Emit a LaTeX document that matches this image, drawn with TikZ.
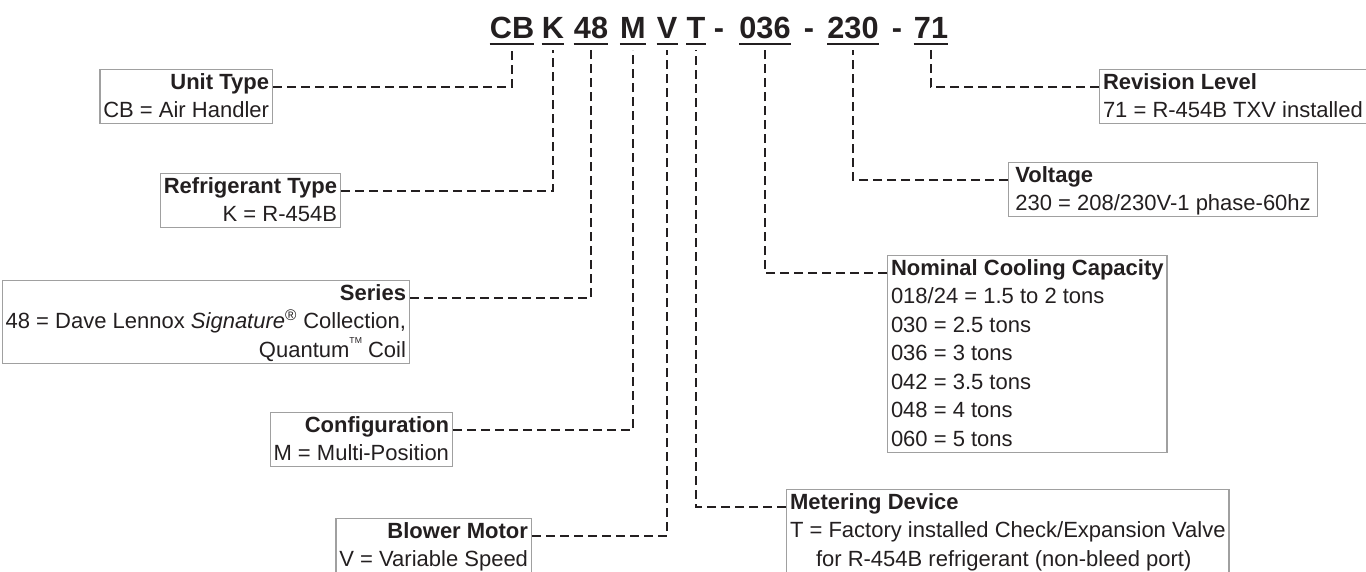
\documentclass[tikz,border=0pt]{standalone}
\usepackage{fontspec}
\setmainfont{Liberation Sans}
\definecolor{ink}{HTML}{231F20}
\definecolor{boxgray}{HTML}{A0A0A0}
\newcommand\bstrut{\rule[-3.4pt]{0pt}{16.9pt}}
\newcommand\tmark{\raisebox{0.62em}{\fontsize{6.5pt}{6.5pt}\selectfont TM}}
\begin{document}
\begin{tikzpicture}[x=0.75pt,y=-0.75pt,
  lbl/.style={draw=boxgray, line width=1pt, inner xsep=2.5pt, inner ysep=1.1pt, text=ink,
    font=\fontsize{16.5pt}{21.4pt}\selectfont},
  lbox/.style={lbl, anchor=north east, align=right},
  rbox/.style={lbl, anchor=north west, align=left},
  code/.style={anchor=base, inner sep=0pt, text=ink, font=\fontsize{23pt}{28pt}\selectfont\bfseries},
  uline/.style={draw=ink, line width=1.9pt},
  conn/.style={draw=ink, line width=2pt, dash pattern=on 6.5pt off 4pt},
]
\useasboundingbox (0,0) rectangle (1366,571);
\clip (0,0) rectangle (1366,571);

% model number tokens
\node[code] (tCB)  at (512,38) {CB};
\node[code] (tK)   at (553,38) {K};
\node[code] (t48)  at (591,38) {48};
\node[code] (tM)   at (633,38) {M};
\node[code] (tV)   at (667,38) {V};
\node[code] (tT)   at (696,38) {T};
\node[code] (d1)   at (719,38) {-};
\node[code] (t036) at (765,38) {036};
\node[code] (d2)   at (809,38) {-};
\node[code] (t230) at (853,38) {230};
\node[code] (d3)   at (897,38) {-};
\node[code] (t71)  at (931,38) {71};
\foreach \t in {tCB,tK,t48,tM,tV,tT,t036,t230,t71}{
  \draw[uline] ([yshift=-4.5pt]\t.base west) -- ([yshift=-4.5pt]\t.base east);
}

% left boxes
\node[lbox] (ut) at (273,69) {\bstrut\textbf{Unit Type}\\CB = Air Handler\bstrut};
\node[lbox] (rt) at (341,173) {\bstrut\textbf{Refrigerant Type}\\K = R-454B\bstrut};
\node[lbox] (se) at (410,280) {\bstrut\textbf{Series}\\48 = Dave Lennox \textit{Signature}\textsuperscript{®} Collection,\\Quantum\tmark\ Coil\bstrut};
\node[lbox] (cf) at (453,412) {\bstrut\textbf{Configuration}\\M = Multi-Position\bstrut};
\node[lbox] (bm) at (532,518) {\bstrut\textbf{Blower Motor}\\V = Variable Speed\bstrut};

% right boxes
\node[rbox] (md) at (786,489) {\bstrut\textbf{Metering Device}\\T = Factory installed Check/Expansion Valve\\\hspace*{19.5pt}for R-454B refrigerant (non-bleed port)\bstrut};
\node[rbox] (nc) at (887,255) {\bstrut\textbf{Nominal Cooling Capacity}\\018/24 = 1.5 to 2 tons\\030 = 2.5 tons\\036 = 3 tons\\042 = 3.5 tons\\048 = 4 tons\\060 = 5 tons\bstrut};
\node[rbox, inner xsep=5pt] (vo) at (1008,162) {\bstrut\textbf{Voltage}\\230 = 208/230V-1 phase-60hz\bstrut};
\node[rbox] (rl) at (1099,69) {\bstrut\textbf{Revision Level}\\71 = R-454B TXV installed\bstrut};

% connectors
\draw[conn] ([yshift=-13.5pt]ut.north east) -| ([yshift=-9pt]tCB.base);
\draw[conn] ([yshift=-13.5pt]rt.north east) -| ([yshift=-9pt]tK.base);
\draw[conn] ([yshift=-13.5pt]se.north east) -| ([yshift=-9pt]t48.base);
\draw[conn] ([yshift=-13.5pt]cf.north east) -| ([yshift=-9pt]tM.base);
\draw[conn] ([yshift=-13.5pt]bm.north east) -| ([yshift=-9pt]tV.base);
\draw[conn] ([yshift=-13.5pt]md.north west) -| ([yshift=-9pt]tT.base);
\draw[conn] ([yshift=-13.5pt]nc.north west) -| ([yshift=-9pt]t036.base);
\draw[conn] ([yshift=-13.5pt]vo.north west) -| ([yshift=-9pt]t230.base);
\draw[conn] ([yshift=-13.5pt]rl.north west) -| ([yshift=-9pt]t71.base);
\end{tikzpicture}
\end{document}
